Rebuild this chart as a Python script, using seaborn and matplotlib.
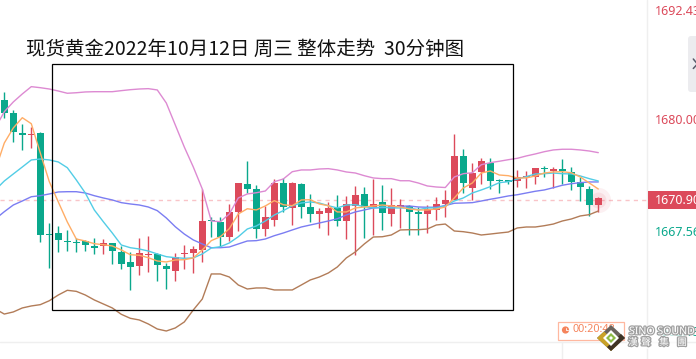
import numpy as np
import pandas as pd
import matplotlib
matplotlib.use('Agg')
import matplotlib.pyplot as plt
import matplotlib.patheffects as pe
from matplotlib.patches import Rectangle, Circle, Polygon, FancyBboxPatch
import seaborn as sns

TITLE = '现货黄金2022年10月12日 周三 整体走势  30分钟图'
LAST_PRICE = 1670.90
PRICE_LABELS = [1692.43, 1680.00, 1667.56]

opens = [1682.42, 1680.96, 1678.62, 1678.43, 1678.62, 1667.00, 1667.12, 1666.20, 1666.09, 1666.20,
         1665.63, 1665.63, 1665.97, 1664.94, 1663.79, 1663.32, 1664.59, 1664.71, 1663.32, 1662.75,
         1664.71, 1664.82, 1665.17, 1668.62, 1668.39, 1666.66, 1669.54, 1672.76, 1672.18, 1667.58,
         1668.62, 1672.87, 1670.00, 1672.76, 1670.11, 1669.31, 1669.42, 1670.00, 1668.50, 1670.23,
         1671.61, 1670.11, 1670.69, 1669.31, 1670.11, 1670.23, 1669.54, 1669.31, 1669.77, 1670.46,
         1670.92, 1675.98, 1672.30, 1674.14, 1675.17, 1673.22, 1673.16, 1673.10, 1673.56, 1673.56,
         1674.60, 1674.25, 1674.48, 1674.14, 1672.99, 1672.18, 1670.34]
closes = [1680.96, 1678.77, 1678.43, 1678.54, 1666.89, 1666.89, 1666.32, 1666.09, 1665.97, 1665.74,
          1665.40, 1665.97, 1665.05, 1663.56, 1663.21, 1664.82, 1664.74, 1663.44, 1662.98, 1664.36,
          1664.82, 1665.28, 1668.50, 1668.50, 1666.66, 1669.54, 1672.87, 1672.18, 1667.58, 1668.96,
          1672.87, 1670.11, 1672.87, 1670.11, 1669.31, 1669.65, 1670.00, 1668.50, 1670.46, 1671.49,
          1670.11, 1670.46, 1669.42, 1670.34, 1670.34, 1669.54, 1669.31, 1669.88, 1670.46, 1670.92,
          1675.98, 1672.87, 1674.02, 1675.40, 1673.10, 1673.10, 1673.04, 1673.56, 1673.68, 1674.60,
          1674.48, 1674.48, 1674.25, 1672.99, 1672.41, 1670.34, 1671.15]
highs = [1683.30, 1681.27, 1679.66, 1679.28, 1678.77, 1668.24, 1667.93, 1667.47, 1666.58, 1666.32,
         1666.55, 1666.43, 1665.97, 1665.63, 1664.94, 1666.55, 1666.78, 1664.82, 1663.67, 1664.82,
         1665.74, 1665.63, 1672.18, 1668.96, 1668.96, 1670.46, 1672.87, 1675.40, 1672.64, 1670.23,
         1673.33, 1673.45, 1672.99, 1672.87, 1671.61, 1670.00, 1670.69, 1671.49, 1671.38, 1672.53,
         1672.41, 1673.33, 1672.64, 1672.30, 1671.03, 1670.34, 1670.11, 1670.34, 1671.26, 1672.07,
         1678.51, 1676.78, 1675.17, 1675.75, 1675.75, 1673.33, 1673.22, 1674.37, 1674.25, 1674.60,
         1674.83, 1674.71, 1675.63, 1674.71, 1673.56, 1672.53, 1671.26]
lows = [1680.31, 1677.62, 1676.67, 1676.93, 1666.09, 1663.13, 1664.94, 1665.05, 1664.94, 1665.05,
        1664.71, 1664.71, 1663.56, 1662.98, 1660.57, 1662.29, 1662.64, 1661.60, 1660.68, 1661.60,
        1662.98, 1662.52, 1663.79, 1666.66, 1665.51, 1666.20, 1667.35, 1671.72, 1666.55, 1666.78,
        1667.93, 1669.54, 1668.04, 1668.85, 1668.39, 1667.70, 1666.89, 1667.93, 1666.43, 1664.59,
        1666.55, 1666.89, 1667.47, 1667.93, 1667.70, 1666.89, 1666.89, 1667.12, 1668.62, 1668.96,
        1671.15, 1671.72, 1670.92, 1672.76, 1672.18, 1671.72, 1672.76, 1672.41, 1672.30, 1672.76,
        1673.56, 1672.30, 1672.76, 1672.07, 1670.80, 1669.08, 1669.54]

# the overlays start one candle earlier than the visible bars
boll_upper = [1679.20, 1681.07, 1682.19, 1683.11, 1683.95, 1683.83, 1683.68, 1683.45, 1683.19, 1683.25,
              1683.34, 1683.37, 1683.37, 1683.37, 1683.49, 1683.60, 1683.68, 1683.72, 1683.57, 1682.07,
              1679.54, 1677.01, 1674.71, 1672.18, 1668.50, 1668.42, 1669.31, 1671.15, 1671.61, 1671.75,
              1671.95, 1673.02, 1673.33, 1674.17, 1674.37, 1674.37, 1674.48, 1674.52, 1674.37, 1674.14,
              1674.02, 1673.71, 1673.45, 1673.37, 1673.37, 1673.13, 1673.13, 1672.87, 1672.53, 1672.41,
              1672.35, 1673.56, 1673.94, 1674.05, 1674.97, 1675.21, 1675.37, 1675.55, 1675.71, 1675.98,
              1676.21, 1676.47, 1676.67, 1676.75, 1676.75, 1676.67, 1676.55, 1676.36]
boll_lower = [1658.38, 1657.80, 1658.04, 1658.50, 1658.73, 1658.88, 1659.33, 1659.99, 1660.53, 1660.41,
              1659.99, 1659.42, 1658.96, 1658.50, 1657.77, 1657.31, 1657.12, 1656.66, 1656.08, 1655.85,
              1656.20, 1656.89, 1658.27, 1659.53, 1662.41, 1662.41, 1662.06, 1661.14, 1660.68, 1660.80,
              1660.80, 1660.57, 1660.57, 1660.57, 1661.14, 1661.72, 1662.06, 1662.52, 1663.21, 1664.25,
              1664.94, 1665.86, 1666.66, 1666.69, 1666.89, 1667.47, 1667.50, 1667.50, 1667.58, 1668.04,
              1668.15, 1667.35, 1667.27, 1667.12, 1666.89, 1667.00, 1667.12, 1667.23, 1667.70, 1667.81,
              1667.81, 1667.96, 1668.15, 1668.50, 1668.73, 1669.08, 1669.23, 1669.65]
ma_fast = [1674.37, 1677.47, 1679.20, 1680.38, 1679.69, 1676.32, 1673.02, 1670.69, 1668.39, 1666.43,
           1666.20, 1665.89, 1665.77, 1665.63, 1665.17, 1664.62, 1664.56, 1664.28, 1663.90, 1663.79,
           1664.02, 1664.05, 1664.25, 1665.17, 1666.24, 1666.69, 1667.62, 1669.31, 1669.91, 1669.77,
           1670.23, 1670.84, 1670.37, 1670.26, 1670.92, 1670.95, 1670.46, 1670.26, 1669.54, 1669.54,
           1670.00, 1670.11, 1670.23, 1670.34, 1670.23, 1670.11, 1669.88, 1669.77, 1669.77, 1669.88,
           1670.11, 1671.15, 1672.30, 1672.87, 1674.02, 1674.25, 1673.79, 1673.71, 1673.45, 1673.45,
           1673.68, 1674.02, 1674.14, 1674.17, 1674.05, 1673.56, 1672.87, 1672.18]
ma_mid = [1672.07, 1673.10, 1673.91, 1674.71, 1675.52, 1675.63, 1675.52, 1675.29, 1674.63, 1673.22,
          1671.72, 1669.77, 1668.42, 1667.12, 1665.74, 1665.43, 1665.28, 1665.05, 1664.71, 1664.40,
          1664.28, 1664.21, 1664.25, 1664.71, 1665.40, 1665.54, 1665.97, 1666.69, 1667.58, 1667.93,
          1668.50, 1669.19, 1669.69, 1670.26, 1670.57, 1670.69, 1670.57, 1670.26, 1670.00, 1670.34,
          1670.37, 1670.15, 1670.00, 1670.11, 1670.00, 1670.00, 1670.00, 1669.80, 1670.00, 1670.00,
          1670.23, 1670.80, 1671.15, 1671.72, 1672.07, 1672.45, 1672.91, 1673.02, 1673.33, 1673.60,
          1673.91, 1673.94, 1674.02, 1673.94, 1673.91, 1673.68, 1673.37, 1673.10]
ma_slow = [1668.73, 1669.57, 1670.34, 1670.80, 1671.29, 1671.41, 1671.61, 1671.84, 1671.87, 1671.87,
           1671.72, 1671.41, 1671.15, 1670.92, 1670.61, 1670.46, 1670.34, 1670.11, 1669.69, 1668.85,
           1667.84, 1667.00, 1666.32, 1665.86, 1665.43, 1665.43, 1665.51, 1665.86, 1666.20, 1666.24,
           1666.43, 1666.81, 1667.12, 1667.47, 1667.81, 1668.04, 1668.27, 1668.50, 1668.76, 1669.19,
           1669.54, 1669.77, 1670.00, 1670.03, 1670.08, 1670.19, 1670.23, 1670.11, 1670.08, 1670.08,
           1670.28, 1670.54, 1670.57, 1670.61, 1670.80, 1671.00, 1671.18, 1671.38, 1671.52, 1671.72,
           1671.92, 1672.07, 1672.33, 1672.61, 1672.79, 1672.91, 1672.99, 1672.99]

RED = '#DC4A5B'
GREEN = '#0AA88C'
LINE_COLORS = {'upper': '#DD8AD2', 'lower': '#B27C58', 'slow': '#7B7DF2', 'mid': '#52CDE6', 'fast': '#FFAD66'}


def build_lines():
    frames = []
    series = {'upper': boll_upper, 'lower': boll_lower, 'slow': ma_slow, 'mid': ma_mid, 'fast': ma_fast}
    for name, values in series.items():
        frames.append(pd.DataFrame({'bar': np.arange(-1, len(values) - 1), 'price': values, 'line': name}))
    return pd.concat(frames)


def draw_candles(ax):
    bars = np.arange(len(opens))
    o = np.array(opens)
    c = np.array(closes)
    colors = [RED if up else GREEN for up in c >= o]
    ax.vlines(bars, lows, highs, colors=colors, lw=1.0, zorder=2)
    heights = np.maximum(np.abs(c - o), 0.12)
    ax.bar(bars, heights, bottom=np.minimum(o, c), width=0.78, color=colors, lw=0, zorder=2)


def draw_overlay(fig):
    # decorations of the page, in image pixels
    ov = fig.add_axes([0, 0, 1, 1], facecolor='none')
    ov.set_xlim(0, 696)
    ov.set_ylim(359, 0)
    ov.axis('off')

    ov.plot([647, 647], [0, 359], color='#EFEFEF', lw=1, zorder=0)
    ov.plot([0, 696], [342, 342], color='#EFEFEF', lw=1, zorder=0)
    ov.plot([562, 562], [342, 359], color='#EFEFEF', lw=1, zorder=0)

    ov.add_patch(Rectangle((52, 63.5), 460.5, 246.5, fill=False, ec='black', lw=0.9, zorder=6))
    ov.text(26.5, 49, TITLE, fontsize=14, color='#111111', va='center', ha='left',
            family=['Noto Sans CJK SC', 'DejaVu Sans'], zorder=6)

    # side button, cut by the right edge
    ov.add_patch(FancyBboxPatch((688, 36), 14, 56, boxstyle='round,pad=0,rounding_size=3',
                                fc='#ECECEF', ec='none', zorder=3))
    ov.plot([693.3, 697], [59, 63.5], color='#5A5A6A', lw=1.1, zorder=4)
    ov.plot([693.3, 697], [68.5, 64.5], color='#5A5A6A', lw=1.1, zorder=4)

    # price scale
    ys = {1692.43: 11.5, 1680.00: 121, 1667.56: 232}
    for value in PRICE_LABELS:
        color = RED if value > LAST_PRICE else GREEN
        ov.text(654.5, ys[value], f'{value:.2f}', fontsize=9, color=color, va='center', ha='left',
                family='Noto Sans', clip_on=True, zorder=4)
    ov.add_patch(Rectangle((648, 191), 48, 18, fc=RED, ec='none', zorder=4))
    ov.text(654.5, 200.3, f'{LAST_PRICE:.2f}', fontsize=9, color='white', va='center', ha='left',
            family='Noto Sans', clip_on=True, zorder=5)
    ov.text(654.5, 332, '1662.13', fontsize=9, color=GREEN, va='center', ha='left',
            family='Noto Sans', clip_on=True, zorder=4)

    # countdown box
    ov.add_patch(Rectangle((557.5, 321.5), 66, 18, fc='white', ec='#FFB8A0', lw=0.9, zorder=5))
    ov.add_patch(Circle((565.5, 330), 3.6, fc='#F5845C', ec='none', zorder=6))
    ov.plot([565.5, 565.5, 567.5], [327.8, 330.3, 330.3], color='white', lw=0.6, zorder=7)
    ov.text(572.5, 330, '00:20:48', fontsize=7.8, color='#F5845C', va='center', ha='left',
            family='Noto Sans', zorder=6)

    # logo
    ov.add_patch(Rectangle((627, 326), 58, 23, fc='white', ec='none', alpha=0.75, zorder=7))
    ov.add_patch(Polygon([(611, 325), (625, 338), (611, 351), (597, 338)], fc='#6A635C', ec='none', zorder=8))
    ov.add_patch(Polygon([(597, 338), (611, 351), (618, 344.5), (604, 331.5)], fc='#C9A227', ec='none', zorder=9))
    ov.add_patch(Polygon([(625, 338), (611, 351), (607, 347), (621, 334)], fc='#3F3325', ec='none', zorder=9))
    ov.add_patch(Polygon([(611, 330), (619, 338), (611, 346), (603, 338)], fc='white', ec='none', zorder=10))
    ov.add_patch(Polygon([(611, 333), (616, 338), (611, 343), (606, 338)], fc='#8DBB46', ec='none', zorder=11))
    ov.add_patch(Polygon([(611, 336), (613, 338), (611, 340), (609, 338)], fc='white', ec='none', zorder=12))
    shadow = [pe.withStroke(linewidth=1.8, foreground='#A0A0A0')]
    ov.text(629, 331.7, 'SINO SOUND', fontsize=7.6, fontweight='bold', color='white', va='center', ha='left',
            family='Noto Sans', path_effects=shadow, zorder=12)
    for x, char in zip([633, 646, 664, 682], '漢聲集團'):
        ov.text(x, 342.3, char, fontsize=7, color='white', va='center', ha='center',
                family='Noto Sans CJK TC', path_effects=shadow, zorder=12)


def plot_chart():
    sns.set_theme(style='white')
    fig = plt.figure(figsize=(6.96, 3.59), dpi=100)
    ax = fig.add_axes([0, 0, 1, 1])

    draw_candles(ax)
    ax.axhline(LAST_PRICE, xmax=647 / 696, color='#F9C4C8', lw=1, ls=(0, (3, 3)), zorder=1)

    ax.scatter([len(opens) - 1], [LAST_PRICE], s=330, color=RED, alpha=0.08, lw=0, zorder=1)
    ax.scatter([len(opens) - 1], [LAST_PRICE], s=130, color=RED, alpha=0.10, lw=0, zorder=1)

    sns.lineplot(data=build_lines(), x='bar', y='price', hue='line', palette=LINE_COLORS,
                 legend=False, lw=1.0, ax=ax, zorder=3)

    # one candle is 9 px wide, the first one sits 4.3 px from the left edge
    ax.set_xlim(-4.3 / 9, (696 - 4.3) / 9)
    ax.set_ylim(1693.915 - 0.115 * 359, 1693.915)
    ax.axis('off')

    draw_overlay(fig)
    fig.savefig('out.png', dpi=100)


if __name__ == '__main__':
    plot_chart()
